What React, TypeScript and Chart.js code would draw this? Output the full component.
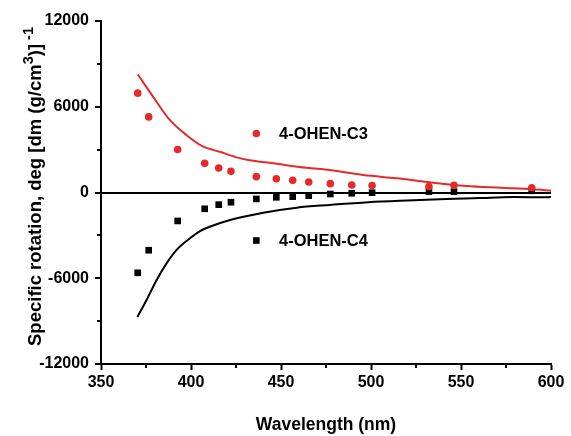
import { useEffect, useRef } from 'react';
import { Chart, registerables } from 'chart.js';

Chart.register(...registerables);

// Measured points (nm, specific rotation)
const measuredWavelengths = [370.4, 376.5, 392.6, 407.6, 415.4, 422.2, 436.3, 447.4, 456.5, 465.4, 477.4, 489.3, 500.6, 532.2, 546.1, 589.3];
const c3Measured = [6950, 5290, 3010, 2040, 1710, 1480, 1110, 960, 850, 735, 620, 530, 490, 420, 500, 335];
const c4Measured = [-5620, -4040, -1990, -1140, -850, -680, -450, -335, -290, -220, -105, -56, -14, 60, 60, 120];

// Calculated curves
const c3CurveWavelengths = [370.4, 379, 388.3, 397.6, 406.3, 416, 425.4, 431.8, 445.7, 464.3, 477.2, 495.7, 514.3, 532.8, 553, 572, 590, 600];
const c3CurveValues = [8270, 6690, 5060, 4010, 3240, 2850, 2460, 2270, 2040, 1730, 1570, 1220, 990, 710, 460, 335, 225, 130];
const c4CurveWavelengths = [370.2, 375.4, 381, 386.5, 392, 399.4, 405, 409.6, 421.7, 440.2, 458.7, 477.2, 498.5, 520, 542, 560, 579, 598, 600];
const c4CurveValues = [-8710, -7500, -6100, -4940, -4010, -3200, -2700, -2430, -1920, -1410, -1060, -870, -680, -560, -460, -390, -320, -330, -300];

// Axis ticks
const xTicks = [350, 400, 450, 500, 550, 600];
const yTicks = [-12000, -6000, 0, 6000, 12000];
const xMinorTicks = [375, 425, 475, 525, 575];
const yMinorTicks = [-9000, -3000, 3000, 9000];

const seriesLabels = ['4-OHEN-C3', '4-OHEN-C4'];
const xTitle = 'Wavelength (nm)';
// y title pieces: [text, isSuperscript]
const yTitleParts: [string, boolean][] = [
  ['Specific rotation, deg [dm (g/cm', false],
  ['3', true],
  [')]', false],
  [' -1', true],
];

const RED = '#e62a2a';
const BLACK = '#000000';
const FONT = "'Liberation Sans', Arial, Helvetica, sans-serif";

const minorTicksPlugin = {
  id: 'minorTicks',
  afterDraw(chart: any) {
    const { ctx, scales } = chart;
    const x = scales.x;
    const y = scales.y;
    ctx.save();
    ctx.strokeStyle = BLACK;
    ctx.lineWidth = 2;
    ctx.beginPath();
    xMinorTicks.forEach((v) => {
      const px = Math.round(x.getPixelForValue(v));
      ctx.moveTo(px, y.bottom);
      ctx.lineTo(px, y.bottom + 4);
    });
    yMinorTicks.forEach((v) => {
      const py = Math.round(y.getPixelForValue(v));
      ctx.moveTo(x.left, py);
      ctx.lineTo(x.left - 4, py);
    });
    ctx.stroke();
    ctx.restore();
  },
};

const yTitlePlugin = {
  id: 'yTitle',
  afterDraw(chart: any) {
    const { ctx, chartArea } = chart;
    const mainFont = `bold 18.5px ${FONT}`;
    const supFont = `bold 14.5px ${FONT}`;
    ctx.save();
    const widths = yTitleParts.map(([t, sup]) => {
      ctx.font = sup ? supFont : mainFont;
      return ctx.measureText(t).width;
    });
    const total = widths.reduce((a, b) => a + b, 0);
    const cy = (chartArea.top + chartArea.bottom) / 2 - 6;
    ctx.translate(41, cy);
    ctx.rotate(-Math.PI / 2);
    ctx.fillStyle = BLACK;
    ctx.textBaseline = 'alphabetic';
    ctx.textAlign = 'left';
    let pos = -total / 2;
    yTitleParts.forEach(([t, sup], i) => {
      ctx.font = sup ? supFont : mainFont;
      ctx.fillText(t, pos, sup ? -8.5 : 0);
      pos += widths[i];
    });
    ctx.restore();
  },
};

const inlineLegendPlugin = {
  id: 'inlineLegend',
  afterDatasetsDraw(chart: any) {
    const { ctx, scales } = chart;
    const x = scales.x;
    const y = scales.y;
    const items = [
      { label: seriesLabels[0], color: RED, shape: 'circle', mx: 436.3, my: 4130 },
      { label: seriesLabels[1], color: BLACK, shape: 'square', mx: 436.3, my: -3360 },
    ];
    ctx.save();
    items.forEach((it) => {
      const px = x.getPixelForValue(it.mx);
      const py = y.getPixelForValue(it.my);
      ctx.fillStyle = it.color;
      if (it.shape === 'circle') {
        ctx.beginPath();
        ctx.arc(px, py, 3.8, 0, Math.PI * 2);
        ctx.fill();
      } else {
        ctx.fillRect(px - 3.3, py - 3.3, 6.6, 6.6);
      }
      ctx.fillStyle = BLACK;
      ctx.font = `bold 16.5px ${FONT}`;
      ctx.textBaseline = 'middle';
      ctx.textAlign = 'left';
      ctx.fillText(it.label, x.getPixelForValue(448.9), py + 1);
    });
    ctx.restore();
  },
};

export default function App() {
  const canvasRef = useRef<HTMLCanvasElement | null>(null);

  useEffect(() => {
    if (!canvasRef.current) return;
    const chart = new Chart(canvasRef.current, {
      type: 'scatter',
      data: {
        datasets: [
          {
            label: seriesLabels[0],
            data: measuredWavelengths.map((w, i) => ({ x: w, y: c3Measured[i] })),
            pointStyle: 'circle',
            pointRadius: 3.8,
            backgroundColor: RED,
            borderColor: RED,
            borderWidth: 0,
            order: 0,
          },
          {
            label: seriesLabels[1],
            data: measuredWavelengths.map((w, i) => ({ x: w, y: c4Measured[i] })),
            pointStyle: 'rect',
            pointRadius: 4.7,
            backgroundColor: BLACK,
            borderColor: BLACK,
            borderWidth: 0,
            order: 0,
          },
          {
            type: 'line',
            label: seriesLabels[0] + ' curve',
            data: c3CurveWavelengths.map((w, i) => ({ x: w, y: c3CurveValues[i] })),
            borderColor: RED,
            borderWidth: 2,
            pointRadius: 0,
            cubicInterpolationMode: 'monotone',
            showLine: true,
            fill: false,
            order: 1,
          },
          {
            type: 'line',
            label: seriesLabels[1] + ' curve',
            data: c4CurveWavelengths.map((w, i) => ({ x: w, y: c4CurveValues[i] })),
            borderColor: BLACK,
            borderWidth: 2,
            pointRadius: 0,
            cubicInterpolationMode: 'monotone',
            showLine: true,
            fill: false,
            order: 1,
          },
        ] as any,
      },
      options: {
        animation: false,
        responsive: true,
        maintainAspectRatio: false,
        layout: { padding: { top: 21, right: 20, left: 0, bottom: 0 } },
        plugins: {
          legend: { display: false },
          tooltip: { enabled: false },
        },
        scales: {
          x: {
            type: 'linear',
            min: 350,
            max: 600,
            afterBuildTicks: (s: any) => {
              s.ticks = xTicks.map((v) => ({ value: v }));
            },
            afterFit: (s: any) => {
              s.height = 72;
            },
            border: { display: true, color: BLACK, width: 2 },
            grid: {
              display: true,
              drawOnChartArea: false,
              drawTicks: true,
              tickLength: 6,
              tickColor: BLACK,
              tickWidth: 2,
            },
            ticks: {
              color: BLACK,
              padding: 3,
              font: { family: FONT, size: 16, weight: 'bold' },
              callback: (v: any) => String(v),
            },
            title: {
              display: true,
              text: xTitle,
              color: BLACK,
              font: { family: FONT, size: 17.5, weight: 'bold' },
              padding: { top: 0, bottom: 0 },
            },
          },
          y: {
            type: 'linear',
            min: -12000,
            max: 12000,
            afterBuildTicks: (s: any) => {
              s.ticks = yTicks.map((v) => ({ value: v }));
            },
            afterFit: (s: any) => {
              s.width = 101;
            },
            border: { display: true, color: BLACK, width: 2 },
            grid: {
              display: true,
              drawOnChartArea: true,
              drawTicks: true,
              tickLength: 6,
              tickColor: BLACK,
              tickWidth: 2,
              lineWidth: 2,
              color: (c: any) => (c.tick && c.tick.value === 0 ? BLACK : 'rgba(0,0,0,0)'),
            },
            ticks: {
              color: BLACK,
              padding: 6,
              font: { family: FONT, size: 16, weight: 'bold' },
              callback: (v: any) => String(v),
            },
            title: { display: false },
          },
        },
      } as any,
      plugins: [minorTicksPlugin, yTitlePlugin, inlineLegendPlugin],
    });
    return () => chart.destroy();
  }, []);

  return (
    <div style={{ position: 'fixed', left: 0, top: 0, width: 571, height: 436, background: '#fff' }}>
      <canvas ref={canvasRef} />
    </div>
  );
}
